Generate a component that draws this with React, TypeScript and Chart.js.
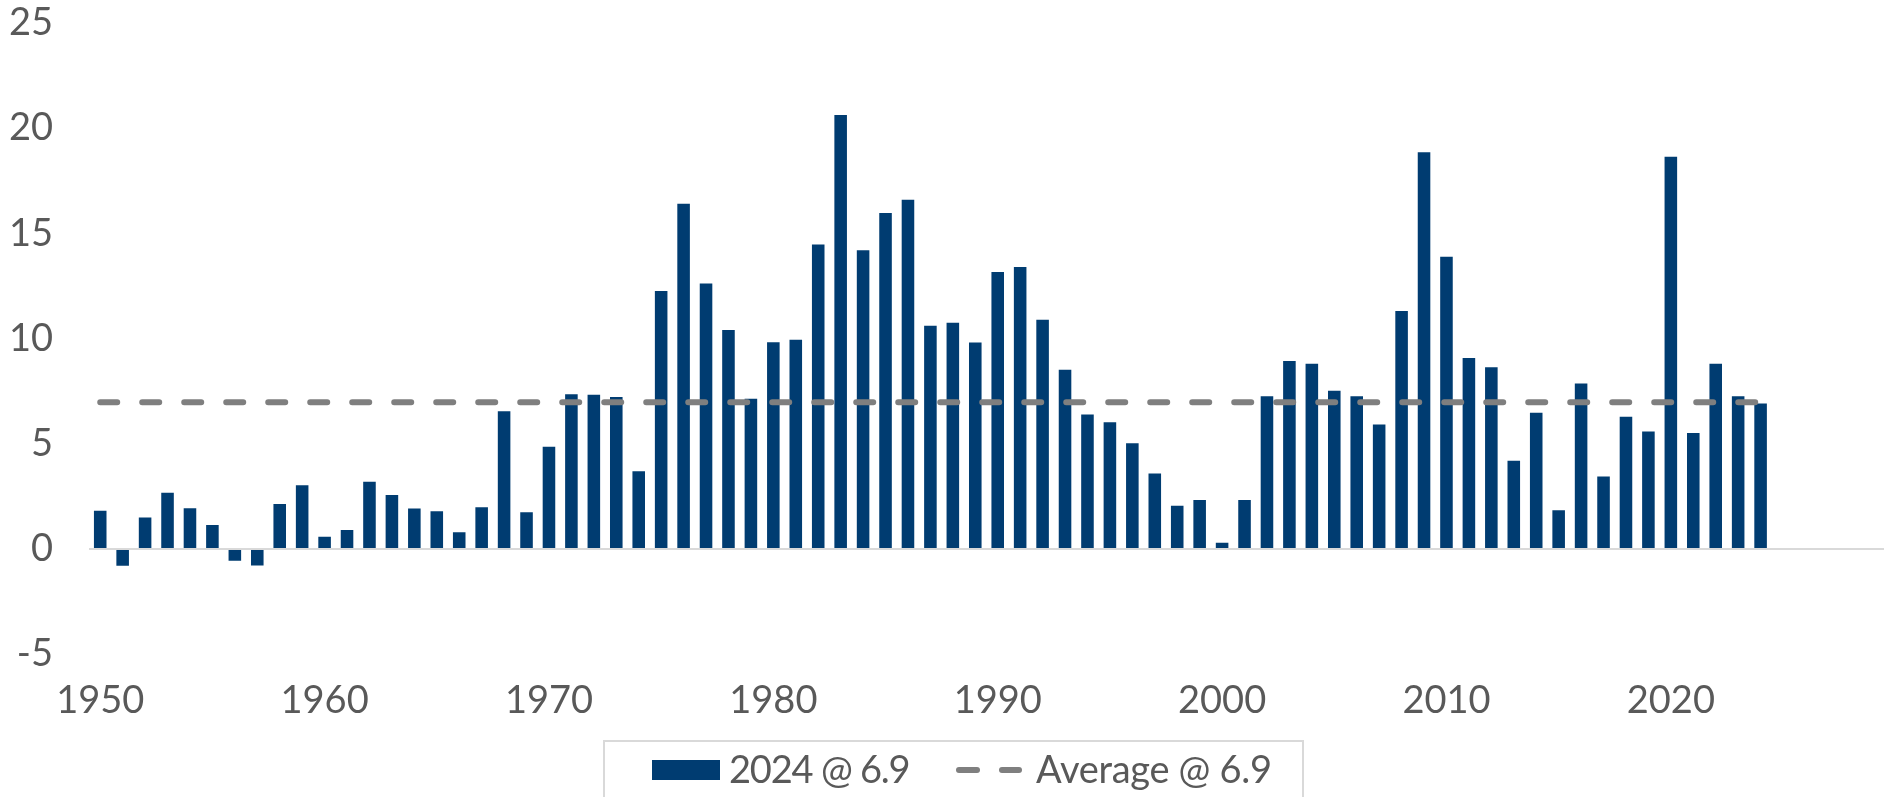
import React, { useEffect, useRef } from 'react';
import { Chart, registerables } from 'chart.js';

Chart.register(...registerables);

const years = [
  1950, 1951, 1952, 1953, 1954, 1955, 1956, 1957, 1958, 1959,
  1960, 1961, 1962, 1963, 1964, 1965, 1966, 1967, 1968, 1969,
  1970, 1971, 1972, 1973, 1974, 1975, 1976, 1977, 1978, 1979,
  1980, 1981, 1982, 1983, 1984, 1985, 1986, 1987, 1988, 1989,
  1990, 1991, 1992, 1993, 1994, 1995, 1996, 1997, 1998, 1999,
  2000, 2001, 2002, 2003, 2004, 2005, 2006, 2007, 2008, 2009,
  2010, 2011, 2012, 2013, 2014, 2015, 2016, 2017, 2018, 2019,
  2020, 2021, 2022, 2023, 2024, 2025, 2026, 2027, 2028, 2029,
];

const yearValues = [
  1.82, -0.8, 1.5, 2.67, 1.94, 1.14, -0.56, -0.78, 2.14, 3.03,
  0.58, 0.9, 3.2, 2.57, 1.92, 1.8, 0.8, 1.99, 6.55, 1.75,
  4.86, 7.36, 7.33, 7.23, 3.69, 12.26, 16.41, 12.62, 10.41, 7.14,
  9.83, 9.95, 14.47, 20.63, 14.2, 15.97, 16.6, 10.61, 10.75, 9.81,
  13.16, 13.4, 10.9, 8.52, 6.39, 6.02, 5.03, 3.59, 2.06, 2.33,
  0.3, 2.33, 7.26, 8.93, 8.81, 7.52, 7.26, 5.92, 11.31, 18.86,
  13.89, 9.08, 8.64, 4.2, 6.48, 1.84, 7.87, 3.45, 6.29, 5.58,
  18.64, 5.51, 8.81, 7.26, 6.92,
];

const averageValue = 6.97;
const averageValues = yearValues.map(() => averageValue);

const yTicks = [-5, 0, 5, 10, 15, 20, 25];
const legendLabels = ['2024 @ 6.9', 'Average @ 6.9'];

const BAR_COLOR = '#003c71';
const LINE_COLOR = '#7f7f7f';
const TEXT_COLOR = '#595959';
const FONT = 'Lato, "Open Sans", sans-serif';
const FONT_SIZE = 38;

export default function App() {
  const canvasRef = useRef<HTMLCanvasElement | null>(null);

  useEffect(() => {
    if (!canvasRef.current) return;
    const chart = new Chart(canvasRef.current, {
      type: 'bar',
      data: {
        labels: years,
        datasets: [
          {
            type: 'line',
            label: legendLabels[1],
            data: averageValues,
            borderColor: LINE_COLOR,
            borderWidth: 6,
            borderDash: [17, 25],
            borderCapStyle: 'round',
            pointRadius: 0,
            fill: false,
            order: 0,
          } as any,
          {
            type: 'bar',
            label: legendLabels[0],
            data: yearValues,
            backgroundColor: BAR_COLOR,
            barPercentage: 0.56,
            categoryPercentage: 1,
            order: 1,
          },
        ],
      },
      options: {
        responsive: false,
        animation: false,
        devicePixelRatio: 1,
        layout: { padding: { top: 23, right: 6, bottom: 0, left: 0 } },
        plugins: { legend: { display: false }, tooltip: { enabled: false } },
        scales: {
          x: {
            grid: { display: false },
            border: { display: false },
            ticks: {
              autoSkip: false,
              maxRotation: 0,
              minRotation: 0,
              padding: 16,
              color: TEXT_COLOR,
              font: { family: FONT, size: FONT_SIZE },
              callback: (_v: any, i: number) => (years[i] % 10 === 0 ? String(years[i]) : ''),
            },
            afterFit: (s: any) => {
              s.height = 797 - 654.2;
            },
          },
          y: {
            min: yTicks[0],
            max: yTicks[yTicks.length - 1],
            border: { display: false },
            grid: {
              drawTicks: true,
              tickLength: 36,
              tickColor: 'rgba(0,0,0,0)',
              lineWidth: 2,
              color: (ctx: any) => (ctx.tick && ctx.tick.value === 0 ? '#d9d9d9' : 'rgba(0,0,0,0)'),
            },
            ticks: {
              stepSize: 5,
              padding: 0,
              color: TEXT_COLOR,
              font: { family: FONT, size: FONT_SIZE },
            },
            afterFit: (s: any) => {
              s.width = 89;
            },
          },
        },
      },
    });
    return () => chart.destroy();
  }, []);

  const textStyle: React.CSSProperties = {
    position: 'absolute',
    top: 749,
    fontFamily: FONT,
    fontSize: FONT_SIZE,
    lineHeight: `${FONT_SIZE}px`,
    letterSpacing: '-1.2px',
    color: TEXT_COLOR,
    whiteSpace: 'nowrap',
  };

  return (
    <div
      style={{
        position: 'fixed',
        left: 0,
        top: 0,
        width: 1890,
        height: 797,
        overflow: 'hidden',
        background: '#ffffff',
      }}
    >
      <canvas ref={canvasRef} width={1890} height={797} style={{ position: 'absolute', left: 0, top: 0 }} />
      <div
        style={{
          position: 'absolute',
          left: 603,
          top: 740,
          width: 701,
          height: 80,
          border: '2px solid #d9d9d9',
          boxSizing: 'border-box',
        }}
      />
      <div style={{ position: 'absolute', left: 652, top: 760, width: 68, height: 20, background: BAR_COLOR }} />
      <div style={{ ...textStyle, left: 729 }}>{legendLabels[0]}</div>
      <div style={{ position: 'absolute', left: 956, top: 767, width: 23.5, height: 6, borderRadius: 3, background: LINE_COLOR }} />
      <div style={{ position: 'absolute', left: 999, top: 767, width: 23, height: 6, borderRadius: 3, background: LINE_COLOR }} />
      <div style={{ ...textStyle, left: 1036, letterSpacing: '-0.3px' }}>{legendLabels[1]}</div>
    </div>
  );
}
